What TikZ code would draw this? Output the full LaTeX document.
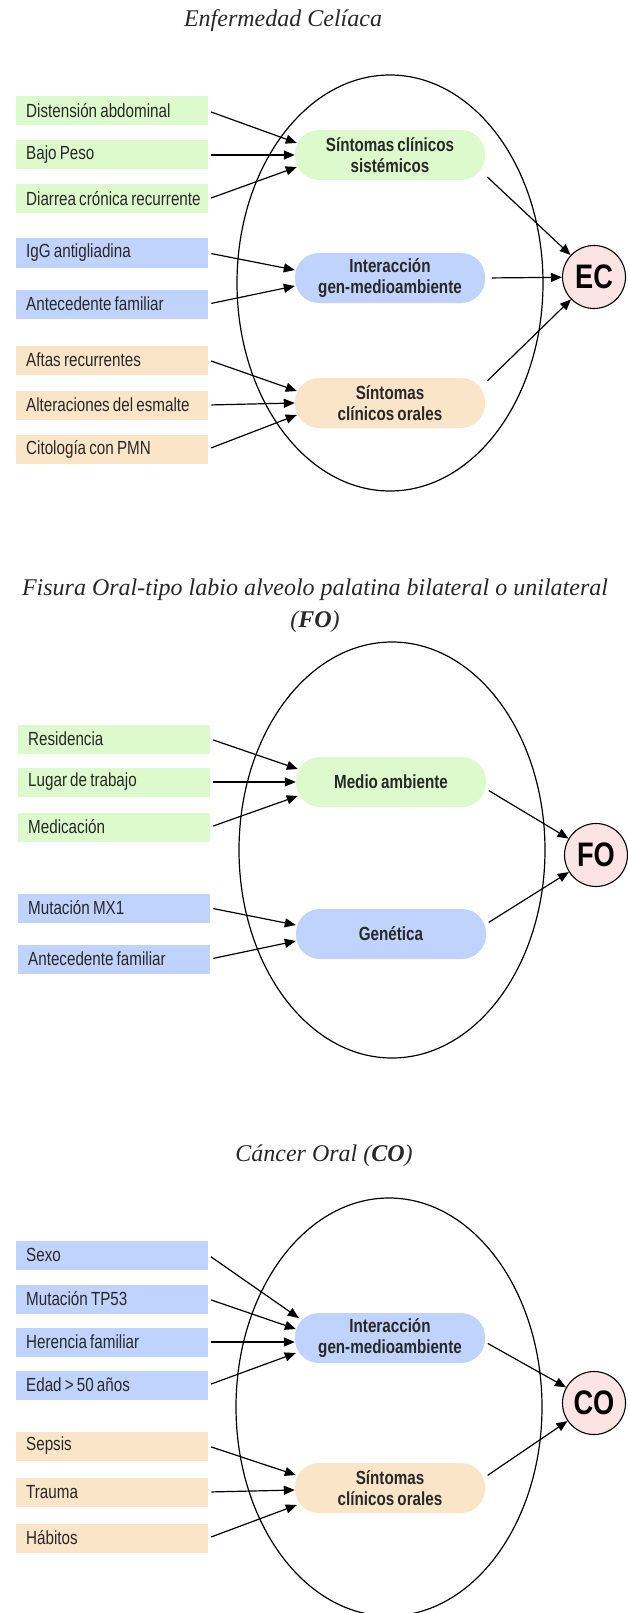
\documentclass[tikz,border=0pt]{standalone}
\usepackage{fontspec}
\setmainfont{Liberation Serif}
\newfontfamily\narrowsans[FakeStretch=0.8,WordSpace=0.75]{Liberation Sans}
\usepackage{tikz}
\usetikzlibrary{calc}
\usetikzlibrary{arrows.meta}
\definecolor{factgreen}{RGB}{221,250,205}
\definecolor{factblue}{RGB}{192,211,252}
\definecolor{factorange}{RGB}{251,229,200}
\definecolor{outpink}{RGB}{253,228,228}
\definecolor{txtgray}{RGB}{40,40,40}
\tikzset{
	% Three node styles: factor boxes, rounded groups and the outcome circle
	factor node/.style={rectangle,anchor=west,minimum height=29pt,minimum width=192pt,inner xsep=10pt,inner ysep=0pt,text=txtgray,font=\narrowsans\fontsize{19pt}{21pt}\selectfont},
	group node/.style={rectangle,rounded corners=24pt,minimum width=190pt,minimum height=50pt,inner sep=0pt,align=center,text=txtgray,font=\narrowsans\bfseries\fontsize{19pt}{21pt}\selectfont},
	outcome node/.style={circle,draw,line width=1.1pt,fill=outpink,minimum size=63pt,inner sep=0pt,font=\narrowsans\bfseries\fontsize{34pt}{34pt}\selectfont},
	title node/.style={align=center,text=txtgray,font=\itshape\fontsize{24pt}{32pt}\selectfont},
	cause arrow/.style={line width=1.2pt,-{Triangle[length=11pt,width=9pt]},shorten <=3pt}
}

\begin{document}
\begin{tikzpicture}[x=1pt,y=-1pt]
	% macro for inputing factor boxes
	\newcommand{\cause}[4][factgreen]{\node(#2)[factor node,fill=#1]at(#3){\makebox[172pt][l]{#4}};}
	\useasboundingbox (0,0) rectangle (628,1613);
	
	% Enfermedad Celiaca
	\node(ec-t)[title node]at(283,21){Enfermedad Celíaca};
	\draw[line width=1.2pt](390,283) ellipse [x radius=153pt,y radius=208pt];
	\node(ec-1)[group node,fill=factgreen]at(390,155){Síntomas clínicos\\sistémicos};
	\node(ec-2)[group node,fill=factblue]at(390,278){Interacción\\gen-medioambiente};
	\node(ec-3)[group node,fill=factorange]at(390,403){Síntomas\\clínicos orales};
	\node(ec)[outcome node]at(594,277){EC};
	\cause{ec-1-1}{16,111}{Distensión abdominal}
	\cause{ec-1-2}{16,155}{Bajo Peso}
	\cause{ec-1-3}{16,199}{Diarrea crónica recurrente}
	\cause[factblue]{ec-2-1}{16,253}{IgG antigliadina}
	\cause[factblue]{ec-2-2}{16,304}{Antecedente familiar}
	\cause[factorange]{ec-3-1}{16,360}{Aftas recurrentes}
	\cause[factorange]{ec-3-2}{16,405}{Alteraciones del esmalte}
	\cause[factorange]{ec-3-3}{16,449}{Citología con PMN}
	\draw[cause arrow](ec-1-1.east)--($(ec-1.west)+(2,-12)$);
	\draw[cause arrow](ec-1-2.east)--(ec-1.west);
	\draw[cause arrow](ec-1-3.east)--($(ec-1.west)+(2,12)$);
	\draw[cause arrow](ec-2-1.east)--($(ec-2.west)+(0,-8)$);
	\draw[cause arrow](ec-2-2.east)--($(ec-2.west)+(0,8)$);
	\draw[cause arrow](ec-3-1.east)--($(ec-3.west)+(2,-12)$);
	\draw[cause arrow](ec-3-2.east)--(ec-3.west);
	\draw[cause arrow](ec-3-3.east)--($(ec-3.west)+(2,12)$);
	\draw[cause arrow]($(ec-1.east)+(0,20)$)--(ec);
	\draw[cause arrow,shorten <=7pt](ec-2.east)--(ec);
	\draw[cause arrow]($(ec-3.east)+(0,-20)$)--(ec);
	
	% Fisura Oral
	\node(fo-t)[title node]at(315,606){Fisura Oral-tipo labio alveolo palatina bilateral o unilateral\\({\bfseries FO})};
	\draw[line width=1.2pt](392,850) ellipse [x radius=153pt,y radius=208pt];
	\node(fo-1)[group node,fill=factgreen]at(391,782){Medio ambiente};
	\node(fo-2)[group node,fill=factblue]at(391,934){Genética};
	\node(fo)[outcome node]at(596,855){FO};
	\cause{fo-1-1}{18,739}{Residencia}
	\cause{fo-1-2}{18,782}{Lugar de trabajo}
	\cause{fo-1-3}{18,827}{Medicación}
	\cause[factblue]{fo-2-1}{18,908}{Mutación MX1}
	\cause[factblue]{fo-2-2}{18,959}{Antecedente familiar}
	\draw[cause arrow](fo-1-1.east)--($(fo-1.west)+(2,-13)$);
	\draw[cause arrow](fo-1-2.east)--(fo-1.west);
	\draw[cause arrow](fo-1-3.east)--($(fo-1.west)+(2,14)$);
	\draw[cause arrow](fo-2-1.east)--($(fo-2.west)+(0,-9)$);
	\draw[cause arrow](fo-2-2.east)--($(fo-2.west)+(0,7)$);
	\draw[cause arrow]($(fo-1.east)+(0,7)$)--(fo);
	\draw[cause arrow]($(fo-2.east)+(0,-10)$)--(fo);
	
	% Cancer Oral
	\node(co-t)[title node]at(324,1156){Cáncer Oral ({\bfseries CO})};
	\draw[line width=1.2pt](389,1407) ellipse [x radius=153pt,y radius=209pt];
	\node(co-1)[group node,fill=factblue]at(390,1338){Interacción\\gen-medioambiente};
	\node(co-2)[group node,fill=factorange]at(390,1488){Síntomas\\clínicos orales};
	\node(co)[outcome node]at(594,1403){CO};
	\cause[factblue]{co-1-1}{16,1255}{Sexo}
	\cause[factblue]{co-1-2}{16,1299}{Mutación TP53}
	\cause[factblue]{co-1-3}{16,1342}{Herencia familiar}
	\cause[factblue]{co-1-4}{16,1385}{Edad > 50 años}
	\cause[factorange]{co-2-1}{16,1446}{Sepsis}
	\cause[factorange]{co-2-2}{16,1492}{Trauma}
	\cause[factorange]{co-2-3}{16,1538}{Hábitos}
	\draw[cause arrow](co-1-1.east)--($(co-1.west)+(4,-20)$);
	\draw[cause arrow](co-1-2.east)--($(co-1.west)+(1,-9)$);
	\draw[cause arrow](co-1-3.east)--($(co-1.west)+(0,4)$);
	\draw[cause arrow](co-1-4.east)--($(co-1.west)+(1,15)$);
	\draw[cause arrow](co-2-1.east)--($(co-2.west)+(1,-13)$);
	\draw[cause arrow](co-2-2.east)--($(co-2.west)+(0,2)$);
	\draw[cause arrow](co-2-3.east)--($(co-2.west)+(2,17)$);
	\draw[cause arrow]($(co-1.east)+(0,4)$)--(co);
	\draw[cause arrow]($(co-2.east)+(0,-11)$)--(co);
\end{tikzpicture}
\end{document}
